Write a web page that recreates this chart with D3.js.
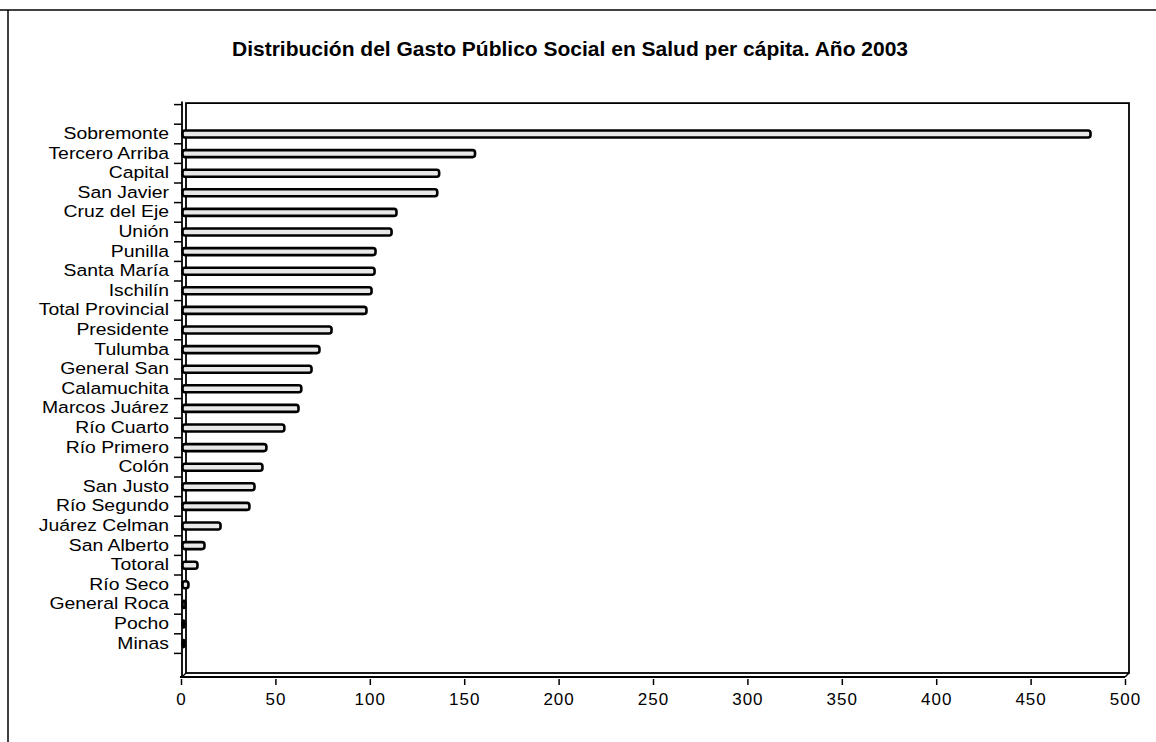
<!DOCTYPE html>
<html>
<head>
<meta charset="utf-8">
<script src="https://cdn.jsdelivr.net/npm/d3@7"></script>
<style>
  body { margin: 0; background: #fff; }
  svg { display: block; }
  .ds-title { font: bold 21px "Liberation Sans", Arial, sans-serif; fill: #000; }
  .ds-cat { font: 17px "Liberation Sans", Arial, sans-serif; fill: #000; }
  .ds-xtick text { font: 17px "Liberation Sans", Arial, sans-serif; letter-spacing: 1px; fill: #000; }
</style>
</head>
<body>
<svg id="chart"></svg>
<script>
// departamentos, ordenados como en el grafico
let categories = ["Sobremonte", "Tercero Arriba", "Capital", "San Javier", "Cruz del Eje", "Unión",
    "Punilla", "Santa María", "Ischilín", "Total Provincial", "Presidente", "Tulumba", "General San",
    "Calamuchita", "Marcos Juárez", "Río Cuarto", "Río Primero", "Colón", "San Justo", "Río Segundo",
    "Juárez Celman", "San Alberto", "Totoral", "Río Seco", "General Roca", "Pocho", "Minas"];
let gastoPerCapita = [482, 156, 137, 136, 114.4, 111.8, 103.3, 102.8, 101.2, 98.5, 80, 73.6, 69.4,
    64, 62.5, 55, 45.5, 43.4, 39.2, 36.5, 21.2, 12.7, 9, 4.2, 2.6, 2, 2];
let xTicks = [0, 50, 100, 150, 200, 250, 300, 350, 400, 450, 500];
let chartTitle = "Distribución del Gasto Público Social en Salud per cápita. Año 2003";

let width = 1156, height = 742;
let plotLeft = 181, plotRight = 1125, plotTop = 104.6, plotBottom = 673;
let depth = 4;   // little 3D offset of the back wall

let svg = d3.select("#chart").attr("width", width).attr("height", height);

// page frame (scanned border)
svg.append("line").attr("x1", 0).attr("x2", width).attr("y1", 10).attr("y2", 10)
    .style("stroke", "#000").style("stroke-width", 1.5);
svg.append("line").attr("x1", 8).attr("x2", 8).attr("y1", 10).attr("y2", height)
    .style("stroke", "#000").style("stroke-width", 1.5);

svg.append("text").attr("class", "ds-title")
    .attr("x", 570).attr("y", 56).attr("text-anchor", "middle")
    .text(chartTitle);

let x = d3.scaleLinear().domain([0, 500]).range([plotLeft, plotRight]);

// blank band above and below, like the original
let y = d3.scaleBand()
    .domain(["_top"].concat(categories, ["_bottom"]))
    .range([plotTop, plotBottom]);

// back wall
svg.append("rect")
    .attr("x", plotLeft + depth + 1).attr("y", plotTop - 1.5)
    .attr("width", plotRight - plotLeft - 1).attr("height", plotBottom - plotTop + 1.5)
    .style("fill", "none").style("stroke", "#000").style("stroke-width", 1.8);

// floor / axis lines
svg.append("line").attr("x1", plotLeft + 1).attr("x2", plotLeft + 1).attr("y1", plotTop - 3).attr("y2", plotBottom + depth)
    .style("stroke", "#000").style("stroke-width", 1.8);
svg.append("line").attr("x1", plotLeft - 1).attr("x2", plotRight).attr("y1", plotBottom + depth).attr("y2", plotBottom + depth)
    .style("stroke", "#000").style("stroke-width", 1.8);
svg.append("line").attr("x1", plotRight).attr("x2", plotRight + depth).attr("y1", plotBottom + depth).attr("y2", plotBottom)
    .style("stroke", "#000").style("stroke-width", 1.5);
svg.append("line").attr("x1", plotLeft + 1).attr("x2", plotLeft + depth + 1).attr("y1", plotBottom + depth).attr("y2", plotBottom)
    .style("stroke", "#000").style("stroke-width", 1.2);

// category boundary ticks on the left
let bounds = y.domain().map(d => y(d));
svg.selectAll(".ds-ytick").data(bounds).enter().append("line")
    .attr("class", "ds-ytick")
    .attr("x1", plotLeft - 7).attr("x2", plotLeft + 1)
    .attr("y1", d => d).attr("y2", d => d)
    .style("stroke", "#000").style("stroke-width", 1.5);

// category labels (stretched a bit sideways, the original face is wide)
let labelX = 169;
svg.selectAll(".ds-cat").data(categories).enter().append("text")
    .attr("class", "ds-cat")
    .attr("transform", d => "translate(" + labelX + "," + (y(d) + y.bandwidth() / 2 + 5) + ") scale(1.14,1)")
    .attr("text-anchor", "end")
    .text(d => d);

// bars
let barH = 7;
svg.selectAll(".ds-bar").data(categories).enter().append("rect")
    .attr("class", "ds-bar")
    .attr("x", x(0) + 1.5)
    .attr("y", d => y(d) + y.bandwidth() / 2 - barH / 2)
    .attr("width", (d, i) => Math.max(x(gastoPerCapita[i]) - x(0) - 2, 2))
    .attr("height", barH)
    .attr("rx", 2.5)
    .style("fill", "#e8e8e8")
    .style("stroke", "#000")
    .style("stroke-width", 2.6);

// x axis ticks and labels
let xAxis = d3.axisBottom(x).tickValues(xTicks).tickSize(6).tickPadding(7).tickFormat(d3.format("d"));
let gx = svg.append("g").attr("class", "ds-xtick")
    .attr("transform", "translate(0," + (plotBottom + depth + 2) + ")")
    .call(xAxis);
gx.select(".domain").remove();
gx.selectAll(".tick line").style("stroke", "#000").style("stroke-width", 1.5);
gx.selectAll(".tick text").attr("dy", "0.75em");
</script>
</body>
</html>
